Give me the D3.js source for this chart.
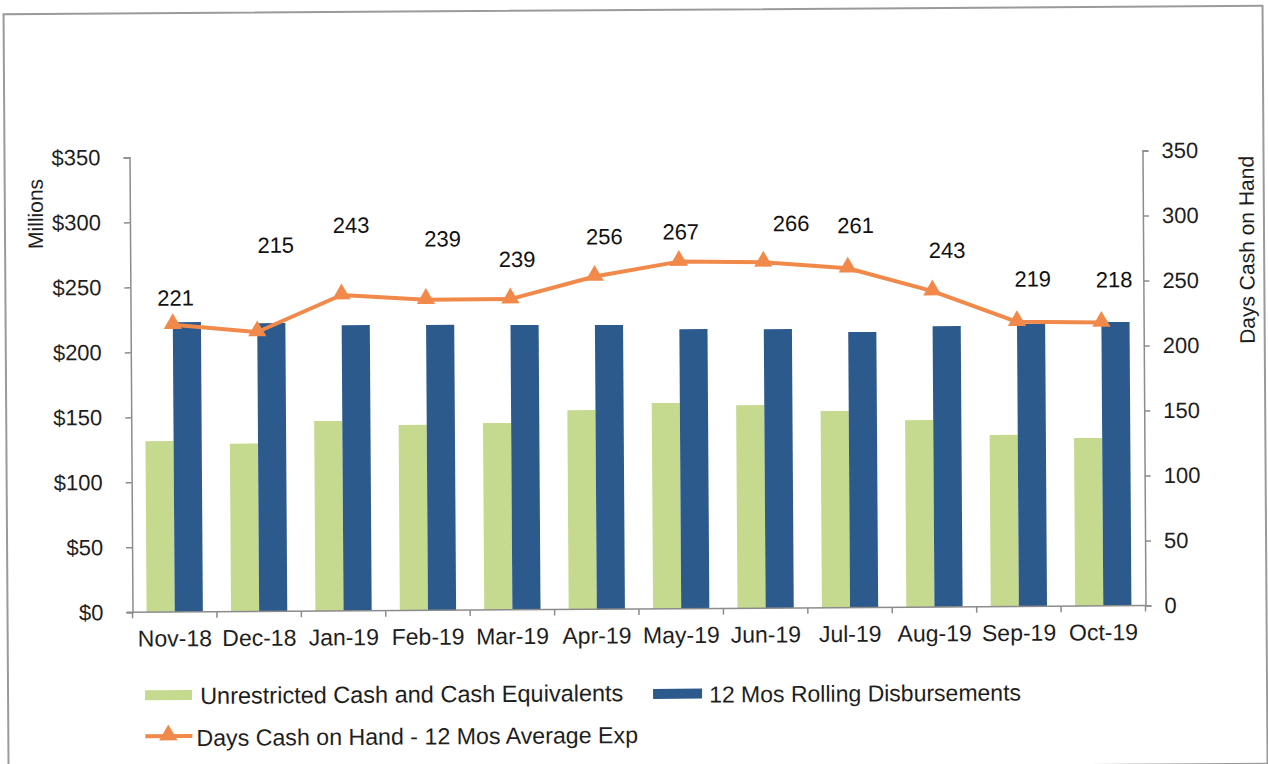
<!DOCTYPE html>
<html><head><meta charset="utf-8">
<script src="https://cdn.jsdelivr.net/npm/d3@7"></script>
<style>
body{margin:0;background:#fff}
text{font-family:"Liberation Sans",Arial,Helvetica,sans-serif}
</style>
</head><body>
<svg id="c" width="1268" height="764"></svg>
<script>
// ---- data ----
const months = ["Nov-18","Dec-18","Jan-19","Feb-19","Mar-19","Apr-19","May-19","Jun-19","Jul-19","Aug-19","Sep-19","Oct-19"];
const unrestrictedCash = [131.6,129.2,146.2,142.7,143.8,153.3,158.3,156.3,151.3,143.9,132.0,129.2];
const rollingDisbursements = [223.0,221.8,219.8,219.5,219.0,218.6,215.0,214.6,211.9,216.0,217.2,218.3];
const daysCashOnHand = [221,215,243,239,239,256,267,266,261,243,219,218];
const leftTicks = [0,50,100,150,200,250,300,350];
const rightTicks = [0,50,100,150,200,250,300,350];
const seriesNames = ["Unrestricted Cash and Cash Equivalents","12 Mos Rolling Disbursements","Days Cash on Hand - 12 Mos Average Exp"];

// ---- layout (label nudges in px, relative to the point) ----
const labelNudge = [[3,-27],[19,-87],[10,-70],[17,-61],[7,-40],[10,-40],[2,-30],[28,-39],[8,-43],[15,-41],[16,-43],[13,-43]];
const C = {green:"#c5d98f", blue:"#2d5a8c", orange:"#f0894a", axis:"#8c8c8c", text:"#1e1e1e"};
const L=131, R=1144, B=609, T=154;

const svg = d3.select("#c");
const root = svg.append("g").attr("transform","rotate(-0.38,634,382)");

root.append("rect").attr("x",6).attr("y",10).attr("width",1259).attr("height",758)
  .attr("fill","none").attr("stroke","#9a9a9a").attr("stroke-width",2);

const x0 = d3.scaleBand().domain(months).range([L,R]).paddingInner(1/3).paddingOuter(1/6);
const x1 = d3.scaleBand().domain(["cash","disb"]).range([0,x0.bandwidth()]);
const yL = d3.scaleLinear().domain([0,350]).range([B,T]);
const yR = d3.scaleLinear().domain([0,350]).range([B,T]);

// bars
const g = root.append("g");
months.forEach((m,i)=>{
  g.append("rect").attr("x",x0(m)+x1("cash")).attr("width",x1.bandwidth())
    .attr("y",yL(unrestrictedCash[i])).attr("height",B-yL(unrestrictedCash[i])).attr("fill",C.green);
  g.append("rect").attr("x",x0(m)+x1("disb")).attr("width",x1.bandwidth())
    .attr("y",yL(rollingDisbursements[i])).attr("height",B-yL(rollingDisbursements[i])).attr("fill",C.blue);
});

// left / right axes
const ax = root.append("g").attr("transform",`translate(${L},0)`)
  .call(d3.axisLeft(yL).tickValues(leftTicks).tickFormat(d=>"$"+d).tickSize(6).tickPadding(23));
const ar = root.append("g").attr("transform",`translate(${R},0)`)
  .call(d3.axisRight(yR).tickValues(rightTicks).tickSize(6).tickPadding(13));
[ax,ar].forEach(a=>{
  a.selectAll("path,line").attr("stroke",C.axis).attr("stroke-width",1.5);
  a.selectAll("text").attr("font-size",22).attr("fill",C.text).attr("font-family","Liberation Sans, Arial, sans-serif");
});

// x axis
const bx = root.append("g").attr("transform",`translate(0,${B})`)
  .call(d3.axisBottom(x0).tickSize(0).tickPadding(18));
bx.select(".domain").remove();
bx.selectAll("text").attr("font-size",23).attr("fill",C.text).attr("font-family","Liberation Sans, Arial, sans-serif");
root.append("line").attr("x1",L-6).attr("x2",R).attr("y1",B).attr("y2",B).attr("stroke",C.axis).attr("stroke-width",1.5);
const gap = (x0.step()-x0.bandwidth())/2;
const bounds = months.map(m=>x0(m)-gap).concat([R]);
root.selectAll(".bt").data(bounds).join("line").attr("x1",d=>d).attr("x2",d=>d)
  .attr("y1",B).attr("y2",B+6).attr("stroke",C.axis).attr("stroke-width",1.5);

// line
const cx = m => x0(m)+x0.bandwidth()/2;
const line = d3.line().x((d,i)=>cx(months[i])).y(d=>yR(d));
root.append("path").datum(daysCashOnHand).attr("d",line).attr("fill","none")
  .attr("stroke",C.orange).attr("stroke-width",4).attr("stroke-linejoin","round");
const tri = d3.symbol().type(d3.symbolTriangle).size(145);
daysCashOnHand.forEach((v,i)=>{
  root.append("path").attr("d",tri()).attr("fill",C.orange)
    .attr("transform",`translate(${cx(months[i])},${yR(v)-1})`);
  root.append("text").attr("x",cx(months[i])+labelNudge[i][0]).attr("y",yR(v)+labelNudge[i][1])
    .attr("dy","0.36em").attr("text-anchor","middle").attr("font-size",22).attr("fill","#111").text(v);
});

// axis titles
root.append("text").attr("transform","translate(44,210) rotate(-90)").attr("text-anchor","middle")
  .attr("font-size",21).attr("fill",C.text).text("Millions");
root.append("text").attr("transform","translate(1255,254) rotate(-90)").attr("text-anchor","middle")
  .attr("font-size",21).attr("fill",C.text).text("Days Cash on Hand");

// legend
const lg = root.append("g");
lg.append("rect").attr("x",143).attr("y",687).attr("width",47).attr("height",10).attr("fill",C.green);
lg.append("text").attr("x",198).attr("y",701).attr("font-size",23.5).attr("fill",C.text).text(seriesNames[0]);
lg.append("rect").attr("x",651).attr("y",689).attr("width",49).attr("height",10).attr("fill",C.blue);
lg.append("text").attr("x",707).attr("y",703).attr("font-size",23).attr("fill",C.text).text(seriesNames[1]);
lg.append("line").attr("x1",143).attr("x2",190).attr("y1",733).attr("y2",733).attr("stroke",C.orange).attr("stroke-width",4);
lg.append("path").attr("d",tri()).attr("fill",C.orange).attr("transform","translate(166,732)");
lg.append("text").attr("x",194).attr("y",743).attr("font-size",23.2).attr("fill",C.text).text(seriesNames[2]);
</script>
</body></html>
